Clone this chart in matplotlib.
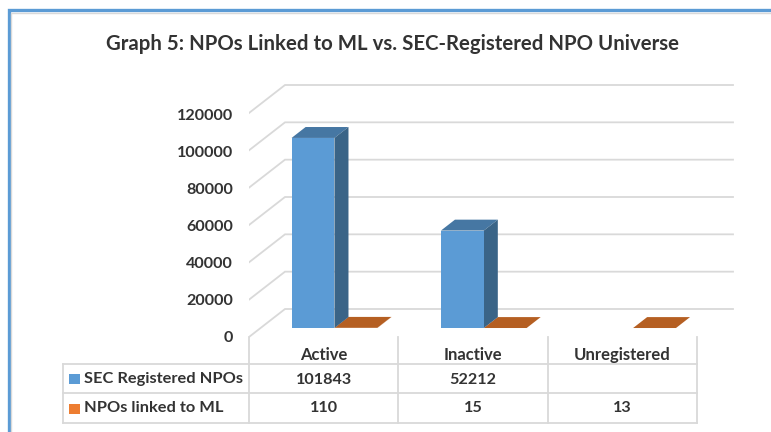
import matplotlib
matplotlib.use("Agg")
import matplotlib.pyplot as plt
from matplotlib.patches import Polygon, Rectangle

categories = ["Active", "Inactive", "Unregistered"]
sec_registered = [101843, 52212, None]
linked_to_ml = [110, 15, 13]
sec_labels = ["101843", "52212", ""]
ml_labels = ["110", "15", "13"]
y_ticks = [0, 20000, 40000, 60000, 80000, 100000, 120000]
series_names = ["SEC Registered NPOs", "NPOs linked to ML"]
title = "Graph 5: NPOs Linked to ML vs. SEC-Registered NPO Universe"

W, H = 771, 432
plt.rcParams["font.family"] = ["Lato", "DejaVu Sans"]
TXT = "#333333"
GRID = "#d9d9d9"
BLUE, BLUE_TOP, BLUE_SIDE = "#5b9bd5", "#4677a3", "#3a6487"
ORANGE, ORANGE_TOP = "#ed7d31", "#b55f22"

fig = plt.figure(figsize=(W / 100, H / 100), dpi=100, facecolor="white")

# overlay in pixel units: frame, title, data table
ov = fig.add_axes([0, 0, 1, 1], zorder=3)
ov.set_xlim(0, W); ov.set_ylim(H, 0); ov.axis("off"); ov.patch.set_alpha(0)

# plot axes: x in category units, y in data units
CAT_W = (697 - 249) / 3
PX_PER_UNIT = 224 / 120000
L, R, T, B = 249, 740, 70, 345
ax = fig.add_axes([L / W, 1 - B / H, (R - L) / W, (B - T) / H], zorder=2)
ax.set_xlim(0, (R - L) / CAT_W)
ax.set_ylim(-(B - 337) / PX_PER_UNIT, (337 - T) / PX_PER_UNIT)
ax.axis("off"); ax.patch.set_alpha(0)

DX, DY = 36 / CAT_W, 28 / PX_PER_UNIT
def proj(x, v, z):
    return x + z * DX, v + z * DY

# gridlines on floor edge, side wall and back wall
X_END = (733 - 249) / CAT_W - DX
for v in y_ticks:
    p0, p1, p2 = proj(0, v, 0), proj(0, v, 1), proj(X_END, v, 1)
    ax.plot([p0[0], p1[0], p2[0]], [p0[1], p1[1], p2[1]], color=GRID, lw=1.3, zorder=1,
            solid_joinstyle="miter")

Z1, Z2 = 0.32, 0.71
BAR_W = 0.287
F0 = 0.208

def bar3d(left, value, front, top, side):
    (x0, y0), (x1, y1) = proj(left, 0, Z1), proj(left + BAR_W, value, Z1)
    ax.add_patch(Rectangle((x0, y0), x1 - x0, y1 - y0, fc=front, ec="none", zorder=4))
    corners = [proj(left, value, Z1), proj(left + BAR_W, value, Z1),
               proj(left + BAR_W, value, Z2), proj(left, value, Z2)]
    ax.add_patch(Polygon(corners, fc=top, ec="none", zorder=3))
    corners = [proj(left + BAR_W, 0, Z1), proj(left + BAR_W, value, Z1),
               proj(left + BAR_W, value, Z2), proj(left + BAR_W, 0, Z2)]
    ax.add_patch(Polygon(corners, fc=side, ec="none", zorder=3))

for i in range(len(categories)):
    if linked_to_ml[i] is not None:
        bar3d(i + F0 + BAR_W, linked_to_ml[i], ORANGE, ORANGE_TOP, ORANGE_TOP)
    if sec_registered[i] is not None:
        bar3d(i + F0, sec_registered[i], BLUE, BLUE_TOP, BLUE_SIDE)

# y tick labels
for v in y_ticks:
    ov.text(233, 337.5 - v * 221.5 / 120000, str(v), ha="right", va="center",
            fontsize=11.6, fontweight="bold", color=TXT)

# frame
ov.plot([W, 8.5, 8.5], [10, 10, H], color="#5b9bd5", lw=2.4, solid_joinstyle="miter")
ov.plot([W, 10.5, 10.5], [12.5, 12.5, H], color="#d9d9d9", lw=1, solid_joinstyle="miter")

ov.text(392.5, 44, title, ha="center", va="center", fontsize=14.7, fontweight="bold", color=TXT)

# data table
XS = [249, 398.3, 547.7, 697]
ROWS = [364, 393, 423]
for x in XS:
    ov.plot([x, x], [337, ROWS[-1]], color=GRID, lw=1.3)
for y in ROWS:
    ov.plot([63, XS[-1]], [y, y], color=GRID, lw=1.3)
ov.plot([63, 63], [ROWS[0], ROWS[-1]], color=GRID, lw=1.3)

for i, c in enumerate(categories):
    cx = (XS[i] + XS[i + 1]) / 2
    ov.text(cx, 355, c, ha="center", va="center", fontsize=12, fontweight="bold", color=TXT)
    ov.text(cx, 379.5, sec_labels[i], ha="center", va="center", fontsize=11.6, fontweight="bold", color=TXT)
    ov.text(cx, 408.5, ml_labels[i], ha="center", va="center", fontsize=11.6, fontweight="bold", color=TXT)

for name, col, yc in zip(series_names, [BLUE, ORANGE], [379, 408.5]):
    ov.add_patch(Rectangle((69, yc - 5), 11, 10, fc=col, ec="none"))
    ov.text(84, yc - 0.5, name, ha="left", va="center", fontsize=11.8, fontweight="bold", color=TXT)

fig.savefig("out.png", dpi=100, facecolor="white")
